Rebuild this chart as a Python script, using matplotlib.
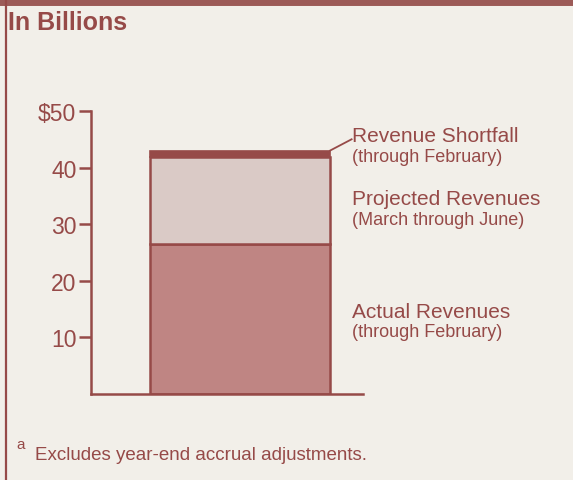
import matplotlib.pyplot as plt
from matplotlib.lines import Line2D

plt.rcParams['font.family'] = ['Liberation Sans', 'DejaVu Sans']

# values in billions of dollars
actual = 26.5        # actual revenues through February
projected = 15.4     # projected revenues March through June
shortfall = 1.1      # revenue shortfall through February
yticks = [10, 20, 30, 40, 50]
ytick_labels = ['10', '20', '30', '40', '$50']

dark = '#964a48'
paper = '#f2efe9'

fig = plt.figure(figsize=(5.73, 4.81), dpi=100, facecolor=paper)

# frame of the panel: top band and left rule
fig.add_artist(Line2D([0, 1], [0.994, 0.994], color='#9c5a57', lw=5))
fig.add_artist(Line2D([0.0105, 0.0105], [0, 1], color=dark, lw=1.6))

fig.text(0.014, 0.952, 'In Billions', fontsize=18, fontweight='bold',
         color=dark, va='center', ha='left')

ax = fig.add_axes([0.1588, 0.1788, 0.4747, 0.5884])
ax.set_facecolor('none')

ax.bar(0, actual, width=0.6, color='#bf8583', edgecolor=dark, linewidth=1.8)
ax.bar(0, projected, width=0.6, bottom=actual, color='#dacac6',
       edgecolor=dark, linewidth=1.8)
ax.bar(0, shortfall, width=0.6, bottom=actual + projected, color=dark,
       edgecolor=dark, linewidth=1.2)

ax.set_xlim(-0.497, 0.41)
ax.set_ylim(0, 50)
ax.set_yticks(yticks)
ax.set_yticklabels(ytick_labels)
ax.set_xticks([])
for s in ['top', 'right']:
    ax.spines[s].set_visible(False)
for s in ['left', 'bottom']:
    ax.spines[s].set_color(dark)
    ax.spines[s].set_linewidth(1.8)
ax.tick_params(axis='y', direction='out', length=9, width=1.8, color=dark,
               labelcolor=dark, labelsize=16.5, pad=1.5)

# labels right of the bar
top = actual + projected + shortfall
ax.plot([0.3, 0.372], [top, top + 2.0], color=dark, lw=1.3, clip_on=False)
lx = 0.375
big, small = 15, 13
ax.text(lx, 45.6, 'Revenue Shortfall', fontsize=big, color=dark,
        ha='left', va='center', clip_on=False)
ax.text(lx, 42.0, '(through February)', fontsize=small, color=dark,
        ha='left', va='center', clip_on=False)
ax.text(lx, 34.5, 'Projected Revenues', fontsize=big, color=dark,
        ha='left', va='center', clip_on=False)
ax.text(lx, 30.9, '(March through June)', fontsize=small, color=dark,
        ha='left', va='center', clip_on=False)
ax.text(lx, 14.5, 'Actual Revenues', fontsize=big, color=dark,
        ha='left', va='center', clip_on=False)
ax.text(lx, 11.0, '(through February)', fontsize=small, color=dark,
        ha='left', va='center', clip_on=False)

fig.text(0.028, 0.075, 'a', fontsize=11, color=dark, ha='left', va='center')
fig.text(0.061, 0.054, 'Excludes year-end accrual adjustments.', fontsize=13.5,
         color=dark, ha='left', va='center')

fig.savefig('out.png', dpi=100, facecolor=paper)
